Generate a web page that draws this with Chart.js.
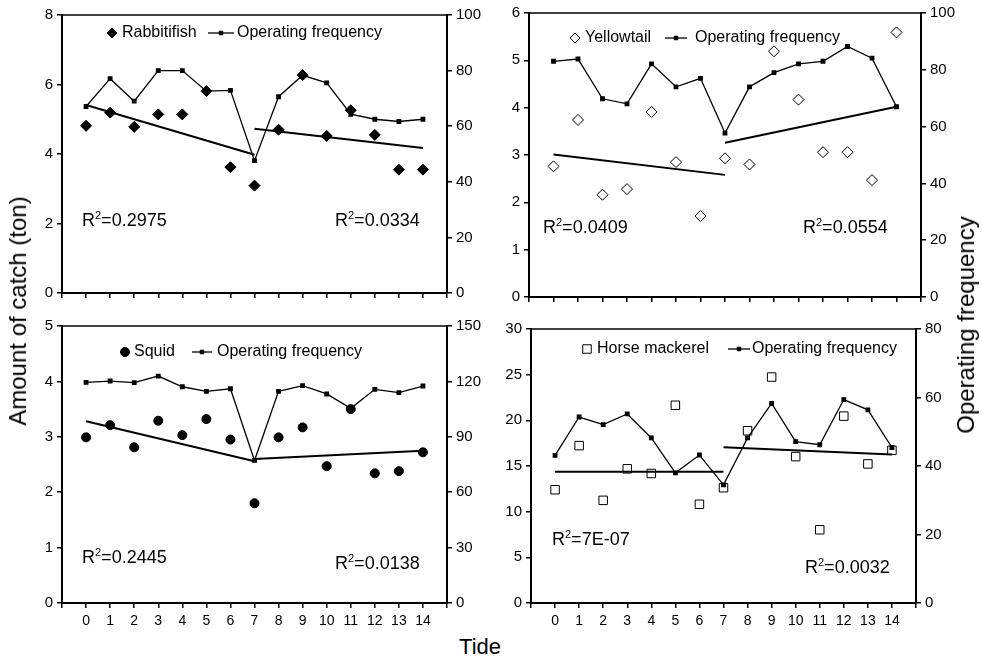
<!DOCTYPE html>
<html>
<head>
<meta charset="utf-8">
<script src="https://cdn.jsdelivr.net/npm/chart.js@4.4.0/dist/chart.umd.min.js"></script>
<style>
  body { margin: 0; background: #fff; }
  #wrap { position: relative; width: 982px; height: 660px; overflow: hidden;
          font-family: 'Liberation Sans', Arial, sans-serif; color: #000; }
  #wrap canvas { position: absolute; }
  .title { position: absolute; white-space: nowrap; transform: translate(-50%, -50%); }
  .rot { transform: translate(-50%, -50%) rotate(-90deg); }
</style>
</head>
<body>
<div id="wrap">
  <canvas id="c1"></canvas>
  <canvas id="c2"></canvas>
  <canvas id="c3"></canvas>
  <canvas id="c4"></canvas>
  <div class="title rot" style="left:18px; top:311px; font-size:24px;">Amount of catch (ton)</div>
  <div class="title rot" style="left:966px; top:325px; font-size:24px;">Operating frequency</div>
  <div class="title" style="left:480px; top:647px; font-size:22px;">Tide</div>
</div>
<script>
// tide categories
const tides = [0, 1, 2, 3, 4, 5, 6, 7, 8, 9, 10, 11, 12, 13, 14];
// trend segments (tide range of each regression line)
const spanA = [0, 7];
const spanB = [7, 14];

// rabbitfish
const rabbitfishCatch = [4.81, 5.19, 4.78, 5.14, 5.14, 5.81, 3.62, 3.09, 4.70, 6.27, 4.52, 5.26, 4.55, 3.55, 3.55];
const rabbitfishFreq = [67.1, 77.1, 69.0, 80.0, 80.0, 72.6, 72.9, 47.6, 70.6, 78.3, 75.6, 64.3, 62.5, 61.7, 62.5];
const rabbitfishTrendA = [5.41, 3.98];
const rabbitfishTrendB = [4.73, 4.17];
const rabbitfishR2 = ['0.2975', '0.0334'];

// yellowtail
const yellowtailCatch = [2.76, 3.74, 2.16, 2.28, 3.91, 2.85, 1.71, 2.93, 2.80, 5.19, 4.17, 3.06, 3.06, 2.47, 5.59];
const yellowtailFreq = [83.0, 83.8, 69.8, 68.0, 82.1, 74.0, 77.0, 57.7, 74.0, 79.0, 82.1, 83.0, 88.2, 84.1, 67.0];
const yellowtailTrendA = [3.01, 2.58];
const yellowtailTrendB = [3.26, 4.02];
const yellowtailR2 = ['0.0409', '0.0554'];

// squid
const squidCatch = [2.99, 3.21, 2.81, 3.29, 3.03, 3.32, 2.95, 1.80, 2.99, 3.17, 2.47, 3.50, 2.34, 2.38, 2.72];
const squidFreq = [119.5, 120.2, 119.3, 122.9, 117.1, 114.6, 116.0, 77.2, 114.6, 117.7, 113.2, 105.4, 115.7, 113.9, 117.5];
const squidTrendA = [3.28, 2.56];
const squidTrendB = [2.60, 2.75];
const squidR2 = ['0.2445', '0.0138'];

// horse mackerel
const mackerelCatch = [12.40, 17.23, 11.24, 14.69, 14.18, 21.65, 10.81, 12.62, 18.86, 24.74, 16.03, 8.02, 20.46, 15.23, 16.72];
const mackerelFreq = [43.1, 54.3, 52.1, 55.2, 48.2, 38.0, 43.2, 34.5, 48.2, 58.3, 47.1, 46.2, 59.4, 56.4, 45.4];
const mackerelTrendA = [14.36, 14.36];
const mackerelTrendB = [17.05, 16.25];
const mackerelR2 = ['7E-07', '0.0032'];

const FONT = "'Liberation Sans', Arial, sans-serif";
const PAD_L = 50, PAD_R = 50, PAD_T = 12, X_H = 30;

const pts = (xs, ys) => xs.map((x, i) => ({ x: x, y: ys[i] }));

function drawMarker(ctx, style, x, y, r, fill) {
    ctx.save();
    ctx.beginPath();
    if (style === 'rectRot') {
        ctx.moveTo(x, y - r); ctx.lineTo(x + r, y); ctx.lineTo(x, y + r); ctx.lineTo(x - r, y);
        ctx.closePath();
    } else if (style === 'circle') {
        ctx.arc(x, y, r, 0, Math.PI * 2);
    } else {
        const s = r * Math.SQRT1_2;
        ctx.rect(x - s, y - s, 2 * s, 2 * s);
    }
    ctx.fillStyle = fill;
    ctx.fill();
    ctx.lineWidth = 1;
    ctx.strokeStyle = '#000';
    ctx.stroke();
    ctx.restore();
}

// frame, legend and R2 notes
const panelText = {
    id: 'panelText',
    afterDraw(chart, args, opts) {
        const ctx = chart.ctx;
        const a = chart.chartArea;
        ctx.save();
        ctx.strokeStyle = '#000';
        ctx.lineWidth = 1.5;
        ctx.beginPath();
        ctx.moveTo(a.left, a.top);
        ctx.lineTo(a.right, a.top);
        ctx.stroke();

        ctx.fillStyle = '#000';
        ctx.textBaseline = 'middle';
        ctx.font = '16px ' + FONT;
        const lg = opts.legend;
        drawMarker(ctx, lg.style, a.left + lg.x, a.top + lg.y, lg.r, lg.fill);
        ctx.fillText(lg.name, a.left + lg.tx, a.top + lg.y);
        ctx.lineWidth = 1.3;
        ctx.beginPath();
        ctx.moveTo(a.left + lg.lx1, a.top + lg.y);
        ctx.lineTo(a.left + lg.lx2, a.top + lg.y);
        ctx.stroke();
        drawMarker(ctx, 'rect', a.left + (lg.lx1 + lg.lx2) / 2, a.top + lg.y, 2.5, '#000');
        ctx.fillText('Operating frequency', a.left + lg.ltx, a.top + lg.y);

        opts.notes.forEach(n => {
            let x = a.left + n.x;
            const y = a.top + n.y;
            ctx.font = '18px ' + FONT;
            ctx.fillText('R', x, y);
            x += ctx.measureText('R').width;
            ctx.font = '11px ' + FONT;
            ctx.fillText('2', x, y - 5);
            x += ctx.measureText('2').width;
            ctx.font = '18px ' + FONT;
            ctx.fillText('=' + n.text, x, y);
        });
        ctx.restore();
    }
};

function axis(pos, max, step, showLabels) {
    const isX = pos === 'bottom';
    return {
        type: 'linear',
        position: pos,
        min: isX ? -1 : 0,
        max: max,
        afterFit: s => { if (isX) s.height = X_H; else s.width = pos === 'left' ? PAD_L : PAD_R; },
        ticks: {
            stepSize: step,
            autoSkip: false,
            maxRotation: 0,
            padding: isX ? 5 : 4,
            color: '#000',
            font: { family: FONT, size: isX ? 14 : 15 },
            callback: v => {
                if (!isX) return String(v);
                return showLabels && tides.includes(v) ? String(v) : '';
            }
        },
        grid: { drawOnChartArea: false, drawTicks: true, tickLength: 5, color: '#000', lineWidth: 1.5 },
        border: { display: true, color: '#000', width: 2 }
    };
}

function makePanel(id, area, p) {
    const cv = document.getElementById(id);
    const w = area.right - area.left + PAD_L + PAD_R;
    const h = area.bottom - area.top + PAD_T + X_H;
    cv.width = w; cv.height = h;
    cv.style.left = (area.left - PAD_L) + 'px';
    cv.style.top = (area.top - PAD_T) + 'px';
    cv.style.width = w + 'px'; cv.style.height = h + 'px';

    const trend = (span, vals) => ({
        type: 'line', data: pts(span, vals), yAxisID: 'yL',
        borderColor: '#000', borderWidth: 2, pointRadius: 0, fill: false
    });

    new Chart(cv, {
        type: 'scatter',
        data: {
            datasets: [
                trend(spanA, p.trendA),
                trend(spanB, p.trendB),
                {
                    type: 'line', label: 'Operating frequency', data: pts(tides, p.freq), yAxisID: 'yR',
                    borderColor: '#000', borderWidth: 1.3, backgroundColor: '#000',
                    pointStyle: 'rect', pointRadius: 2.5, fill: false, tension: 0
                },
                {
                    type: 'scatter', label: p.name, data: pts(tides, p.catchVals), yAxisID: 'yL',
                    pointStyle: p.style, pointRadius: p.r, backgroundColor: p.fill,
                    borderColor: '#000', borderWidth: 1
                }
            ]
        },
        options: {
            responsive: false,
            animation: false,
            devicePixelRatio: 1,
            layout: { padding: { top: PAD_T, left: 0, right: 0, bottom: 0 } },
            plugins: {
                legend: { display: false },
                tooltip: { enabled: false },
                panelText: { legend: p.legend, notes: p.notes }
            },
            scales: {
                x: axis('bottom', 15, 1, p.xLabels),
                yL: axis('left', p.maxL, p.stepL),
                yR: axis('right', p.maxR, p.stepR)
            }
        },
        plugins: [panelText]
    });
}

makePanel('c1', { left: 62, right: 447, top: 14, bottom: 293 }, {
    name: 'Rabbitifish', catchVals: rabbitfishCatch, freq: rabbitfishFreq,
    trendA: rabbitfishTrendA, trendB: rabbitfishTrendB,
    style: 'rectRot', r: 5.5, fill: '#000',
    maxL: 8, stepL: 2, maxR: 100, stepR: 20, xLabels: false,
    legend: { style: 'rectRot', r: 5, fill: '#000', name: 'Rabbitifish', x: 50, y: 18, tx: 60, lx1: 146, lx2: 172, ltx: 175 },
    notes: [{ x: 20, y: 206, text: rabbitfishR2[0] }, { x: 273, y: 206, text: rabbitfishR2[1] }]
});

makePanel('c2', { left: 529, right: 921, top: 12, bottom: 297 }, {
    name: 'Yellowtail', catchVals: yellowtailCatch, freq: yellowtailFreq,
    trendA: yellowtailTrendA, trendB: yellowtailTrendB,
    style: 'rectRot', r: 5.5, fill: '#fff',
    maxL: 6, stepL: 1, maxR: 100, stepR: 20, xLabels: false,
    legend: { style: 'rectRot', r: 5, fill: '#fff', name: 'Yellowtail', x: 46, y: 25, tx: 56, lx1: 136, lx2: 158, ltx: 166 },
    notes: [{ x: 14, y: 215, text: yellowtailR2[0] }, { x: 274, y: 215, text: yellowtailR2[1] }]
});

makePanel('c3', { left: 62, right: 447, top: 325, bottom: 603 }, {
    name: 'Squid', catchVals: squidCatch, freq: squidFreq,
    trendA: squidTrendA, trendB: squidTrendB,
    style: 'circle', r: 4.5, fill: '#000',
    maxL: 5, stepL: 1, maxR: 150, stepR: 30, xLabels: true,
    legend: { style: 'circle', r: 4.5, fill: '#000', name: 'Squid', x: 63, y: 26, tx: 72, lx1: 130, lx2: 150, ltx: 155 },
    notes: [{ x: 20, y: 232, text: squidR2[0] }, { x: 273, y: 238, text: squidR2[1] }]
});

makePanel('c4', { left: 531, right: 916, top: 328, bottom: 603 }, {
    name: 'Horse mackerel', catchVals: mackerelCatch, freq: mackerelFreq,
    trendA: mackerelTrendA, trendB: mackerelTrendB,
    style: 'rect', r: 6, fill: '#fff',
    maxL: 30, stepL: 5, maxR: 80, stepR: 20, xLabels: true,
    legend: { style: 'rect', r: 6, fill: '#fff', name: 'Horse mackerel', x: 56, y: 20, tx: 66, lx1: 197, lx2: 219, ltx: 221 },
    notes: [{ x: 21, y: 211, text: mackerelR2[0] }, { x: 274, y: 239, text: mackerelR2[1] }]
});
</script>
</body>
</html>
